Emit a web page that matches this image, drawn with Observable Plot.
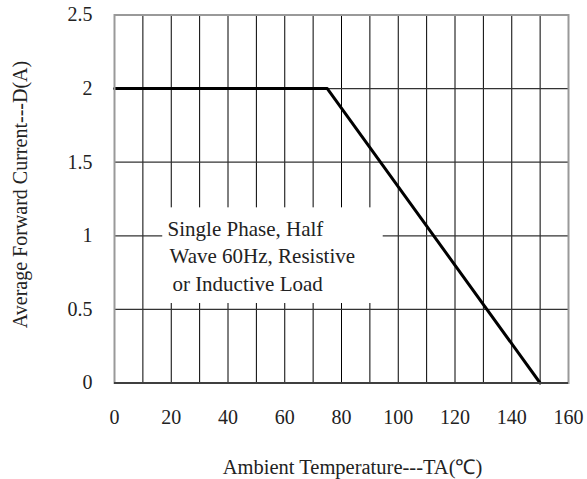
<!DOCTYPE html>
<html><head><meta charset="utf-8">
<script src="https://cdn.jsdelivr.net/npm/d3@7"></script>
<script src="https://cdn.jsdelivr.net/npm/@observablehq/plot@0.6"></script>
<style>body{margin:0;background:#fff}</style>
</head><body><div id="chart"></div>
<script>
// Derating curve
const temperature = [0, 75, 150];
const current = [2, 2, 0];

// Axes
const xTicks = [0, 20, 40, 60, 80, 100, 120, 140, 160];
const yTicks = [0, 0.5, 1, 1.5, 2, 2.5];
const xGrid = [10, 20, 30, 40, 50, 60, 70, 80, 90, 100, 110, 120, 130, 140, 150];
const yGrid = [0.5, 1, 1.5, 2];
const xLabel = "Ambient Temperature---TA(\u2103)";
const yLabel = "Average Forward Current---D(A)";

// Annotation
const noteLines = ["Single Phase, Half", "Wave 60Hz, Resistive", "or Inductive Load"];
const noteX = [18.7, 19.4, 20.4];
const noteY = [1.0, 0.812, 0.628];
const noteBoxX = [17, 94.7];
const noteBoxY = [0.54, 1.19];

const curve = temperature.map((t, i) => ({t, c: current[i]}));
const notes = noteLines.map((s, i) => ({s, x: noteX[i], y: noteY[i]}));
const font = "Liberation Serif, Times New Roman, serif";

const chart = Plot.plot({
  width: 587,
  height: 479,
  marginLeft: 114,
  marginRight: 19,
  marginTop: 14.5,
  marginBottom: 96.5,
  style: {fontFamily: font, background: "#fff", color: "#000"},
  x: {domain: [0, 160]},
  y: {domain: [0, 2.5]},
  marks: [
    Plot.ruleX(xGrid, {stroke: "#000", strokeWidth: 1}),
    Plot.ruleY(yGrid, {stroke: "#333", strokeWidth: 1.2}),
    Plot.rect([0], {x1: noteBoxX[0], x2: noteBoxX[1], y1: noteBoxY[0], y2: noteBoxY[1], fill: "#fff"}),
    Plot.text(notes, {x: "x", y: "y", text: "s", textAnchor: "start", lineAnchor: "bottom", fontSize: 21, fill: "#222"}),
    Plot.line(curve, {x: "t", y: "c", stroke: "#000", strokeWidth: 3}),
    Plot.frame({stroke: "#999", strokeWidth: 2}),
    Plot.ruleY([0], {stroke: "#222", strokeWidth: 1.5}),
    Plot.axisX(xTicks, {tickSize: 0, tickPadding: 27, fontSize: 20, label: null, tickFormat: d => String(d), fill: "#222"}),
    Plot.axisY(yTicks, {tickSize: 0, tickPadding: 22, fontSize: 20, label: null, tickFormat: d => String(d), fill: "#222"}),
    Plot.text([xLabel], {frameAnchor: "bottom", dx: 11, dy: 90.5, lineAnchor: "bottom", fontSize: 20.5, fill: "#222"}),
    Plot.text([yLabel], {frameAnchor: "left", dx: -94, dy: -4.5, rotate: -90, textAnchor: "middle", lineAnchor: "middle", fontSize: 20, fill: "#222"})
  ]
});
document.getElementById("chart").appendChild(chart);
</script>
</body></html>
